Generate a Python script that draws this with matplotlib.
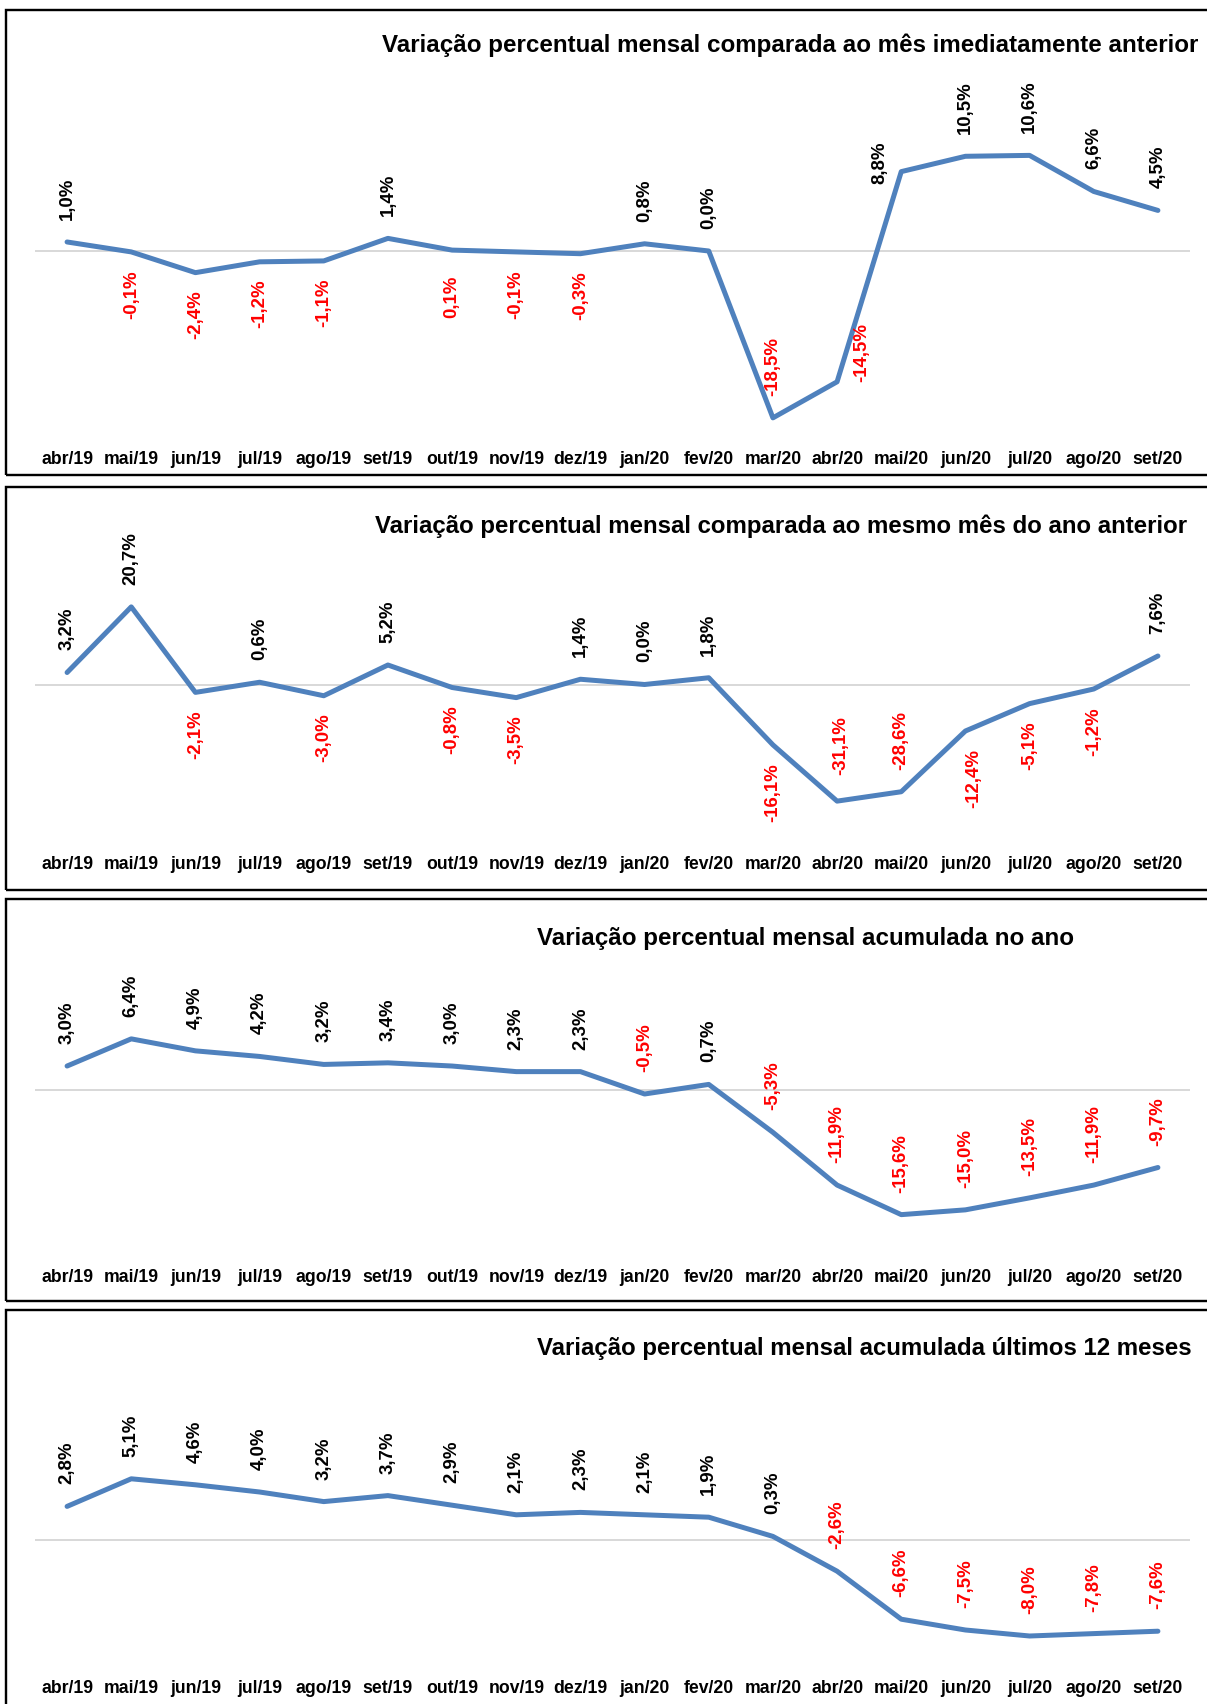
import matplotlib
matplotlib.use("Agg")
import matplotlib.pyplot as plt
from matplotlib.patches import Rectangle

plt.rcParams['font.family'] = ['Liberation Sans', 'DejaVu Sans']
plt.rcParams['font.weight'] = 'bold'

# meses (eixo x)
meses = ["abr/19", "mai/19", "jun/19", "jul/19", "ago/19", "set/19", "out/19", "nov/19", "dez/19",
         "jan/20", "fev/20", "mar/20", "abr/20", "mai/20", "jun/20", "jul/20", "ago/20", "set/20"]

# series
mes_anterior = [1.0, -0.1, -2.4, -1.2, -1.1, 1.4, 0.1, -0.1, -0.3, 0.8, 0.0, -18.5, -14.5, 8.8, 10.5, 10.6, 6.6, 4.5]
mesmo_mes = [3.2, 20.7, -2.1, 0.6, -3.0, 5.2, -0.8, -3.5, 1.4, 0.0, 1.8, -16.1, -31.1, -28.6, -12.4, -5.1, -1.2, 7.6]
acum_ano = [3.0, 6.4, 4.9, 4.2, 3.2, 3.4, 3.0, 2.3, 2.3, -0.5, 0.7, -5.3, -11.9, -15.6, -15.0, -13.5, -11.9, -9.7]
acum_12m = [2.8, 5.1, 4.6, 4.0, 3.2, 3.7, 2.9, 2.1, 2.3, 2.1, 1.9, 0.3, -2.6, -6.6, -7.5, -8.0, -7.8, -7.6]

titulos = ["Variação percentual mensal comparada ao mês imediatamente anterior",
           "Variação percentual mensal comparada ao mesmo mês do ano anterior",
           "Variação percentual mensal acumulada no ano",
           "Variação percentual mensal acumulada últimos 12 meses"]

W, H = 1207, 1704
AZUL = '#4F81BD'
px = 0.72  # 1 px em pontos (dpi 100)

fig = plt.figure(figsize=(W / 100, H / 100), dpi=100)


def fy(y):
    return 1 - y / H


def painel(serie, titulo, box, zero, ppp, tick_y, title_x, title_y, title_fs, lugares, vermelhos=()):
    # caixa do painel
    top, bot = box
    fig.patches.append(Rectangle((6 / W, fy(bot)), 1.2, (bot - top) / H, transform=fig.transFigure,
                                 fill=False, edgecolor='black', linewidth=2.4 * px))
    fig.text(title_x / W, fy(title_y), titulo, fontsize=title_fs, fontweight='bold', ha='left', va='center')

    a_top = top + 40
    a_bot = tick_y - 20
    ax = fig.add_axes([35 / W, fy(a_bot), (1190 - 35) / W, (a_bot - a_top) / H])
    ax.set_xlim(-0.5, len(serie) - 0.5)
    ax.set_ylim(-(a_bot - zero) / ppp, (zero - a_top) / ppp)
    ax.axhline(0, color='#D9D9D9', linewidth=2 * px, zorder=1)
    x = list(range(len(serie)))
    ax.plot(x, serie, color=AZUL, linewidth=5 * px, solid_capstyle='round', solid_joinstyle='round', zorder=2)
    ax.set_xticks(x)
    ax.set_xticklabels(meses, fontsize=12.7, fontweight='bold')
    ax.tick_params(axis='x', length=0, pad=14 * px)
    ax.set_yticks([])
    for s in ax.spines.values():
        s.set_visible(False)
    ax.patch.set_alpha(0)

    for i, v in enumerate(serie):
        txt = f"{v:.1f}".replace('.', ',') + '%'
        cor = 'red' if (v < 0 or i in vermelhos) else 'black'
        modo, dx, dy = lugares.get(i, ('a', 0, 0) if v >= 0 else ('b', 0, 0))
        if modo == 'a':
            va, off = 'bottom', 22
        elif modo == 'b':
            va, off = 'top', -18
        else:
            va, off = 'center', 0
        ax.annotate(txt, (i, v), xytext=(dx * px, (off + dy) * px), textcoords='offset points',
                    rotation=90, ha='center', va=va, fontsize=13.4, fontweight='bold', color=cor)
    return ax


# painel 1
painel(mes_anterior, titulos[0], (10, 475), 251, 9.02, 457, 382, 45, 17.4,
       {6: ('b', 0, -8), 11: ('a', 0, 0), 12: ('a', 25, -22), 13: ('c', -21, 9)}, vermelhos=(6,))
# painel 2
painel(mesmo_mes, titulos[1], (487, 890), 684.5, 3.75, 862, 375, 526, 17.3,
       {12: ('a', 4, 4), 13: ('a', 0, 0), 14: ('b', 8, 0)})
# painel 3
painel(acum_ano, titulos[2], (899, 1301), 1090, 7.99, 1275.5, 537, 938, 17.4,
       {i: ('a', 0, 0) for i in range(18)})
# painel 4
painel(acum_12m, titulos[3], (1310, 1760), 1540, 12.0, 1686, 537, 1349, 17.3,
       {i: ('a', 0, 0) for i in range(18)})

fig.savefig('out.png', dpi=100)
